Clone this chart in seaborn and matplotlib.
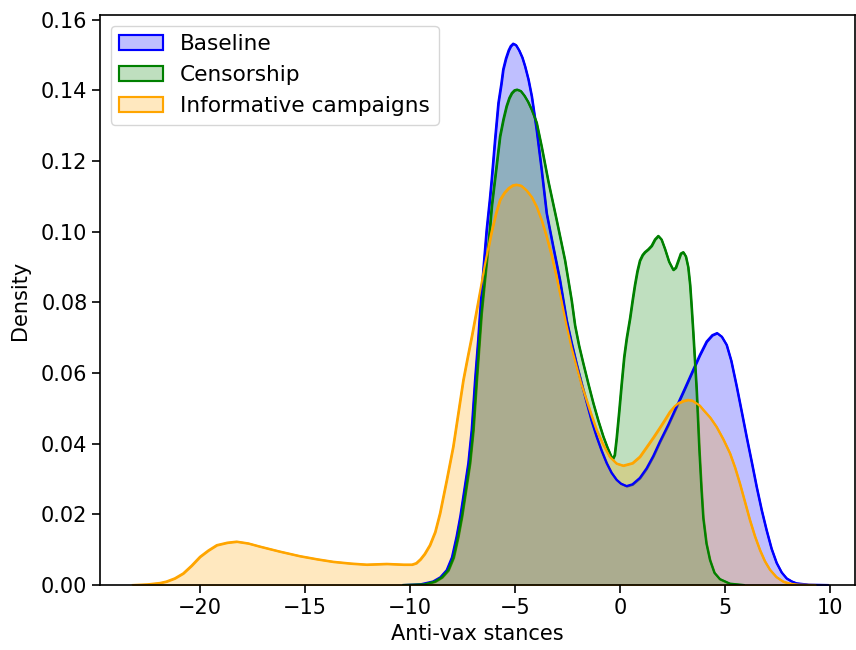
import numpy as np
import pandas as pd
import matplotlib
matplotlib.use("Agg")
import matplotlib.pyplot as plt
from matplotlib.patches import Patch
from matplotlib.colors import to_rgba
import seaborn as sns

# ---- data (density curves) ----
groups = ["Baseline", "Censorship", "Informative campaigns"]
colors = ["blue", "green", "orange"]

baseline_x = [-10.3, -9.5, -8.9, -8.55, -8.25, -8.0, -7.78, -7.6, -7.46, -7.22,
              -7.06, -6.9, -6.75, -6.67, -6.51, -6.35, -6.2, -6.11, -5.95, -5.79,
              -5.65, -5.56, -5.43, -5.3, -5.2, -5.08, -4.95, -4.8, -4.65, -4.52,
              -4.36, -4.2, -3.97, -3.73, -3.49, -3.18, -2.86, -2.54, -2.3, -2.06,
              -1.8, -1.59, -1.35, -1.11, -0.87, -0.63, -0.4, -0.16, 0.05, 0.32,
              0.6, 0.95, 1.27, 1.59, 1.9, 2.3, 2.7, 3.1, 3.49, 3.8,
              4.13, 4.4, 4.63, 4.85, 5.08, 5.3, 5.56, 5.8, 6.03, 6.27,
              6.51, 6.75, 6.98, 7.22, 7.46, 7.7, 7.94, 8.2, 8.41, 9.0, 9.9]
baseline_d = [0.0, 0.0002, 0.001, 0.0022, 0.0042, 0.0078, 0.0137, 0.0195, 0.025, 0.0345,
              0.0439, 0.058, 0.0695, 0.0765, 0.089, 0.1005, 0.109, 0.1147, 0.126, 0.1364,
              0.1418, 0.1459, 0.149, 0.1513, 0.1525, 0.1532, 0.1528, 0.1513, 0.1493, 0.1468,
              0.1431, 0.1383, 0.1289, 0.1175, 0.1052, 0.0958, 0.0864, 0.075, 0.0685, 0.0625,
              0.0565, 0.0518, 0.0465, 0.042, 0.038, 0.0345, 0.0318, 0.0298, 0.0287, 0.028,
              0.0285, 0.0303, 0.033, 0.0365, 0.0405, 0.0453, 0.0505, 0.0557, 0.0609, 0.065,
              0.0689, 0.0707, 0.0713, 0.0703, 0.0680, 0.0635, 0.0562, 0.049, 0.042, 0.035,
              0.0278, 0.0212, 0.0156, 0.0103, 0.0063, 0.0036, 0.0019, 0.001, 0.0005, 0.0001, 0.0]

censor_x = [-10.3, -9.3, -8.8, -8.47, -8.17, -7.92, -7.7, -7.52, -7.38, -7.14,
            -6.98, -6.82, -6.59, -6.43, -6.27, -6.1, -5.9, -5.71, -5.55, -5.4,
            -5.27, -5.15, -5.02, -4.89, -4.72, -4.55, -4.38, -4.2, -3.97, -3.73,
            -3.41, -3.02, -2.62, -2.3, -2.14, -1.95, -1.75, -1.5, -1.27, -1.03,
            -0.79, -0.6, -0.4, -0.33, -0.25, -0.16, -0.04, 0.08, 0.2, 0.32,
            0.48, 0.6, 0.71, 0.83, 0.95, 1.08, 1.19, 1.35, 1.51, 1.67,
            1.83, 1.98, 2.14, 2.34, 2.54, 2.66, 2.78, 2.9, 3.02, 3.14,
            3.25, 3.34, 3.41, 3.49, 3.57, 3.65, 3.72, 3.78, 3.88, 3.97,
            4.12, 4.29, 4.5, 4.76, 5.24, 5.9]
censor_d = [0.0, 0.0002, 0.001, 0.0022, 0.0042, 0.0078, 0.0137, 0.0195, 0.025, 0.0345,
            0.0439, 0.058, 0.0769, 0.0865, 0.0958, 0.1075, 0.1175, 0.127, 0.1318, 0.1355,
            0.1378, 0.1392, 0.14, 0.1402, 0.1398, 0.1385, 0.1368, 0.1345, 0.1309, 0.1241,
            0.1142, 0.1034, 0.092, 0.0805, 0.0735, 0.0678, 0.0628, 0.0568, 0.0515, 0.0465,
            0.042, 0.039, 0.0362, 0.0358, 0.0368, 0.0415, 0.049, 0.057, 0.0645, 0.0698,
            0.0755, 0.0805, 0.0848, 0.0888, 0.0918, 0.0934, 0.0942, 0.095, 0.096, 0.0978,
            0.0988, 0.0978, 0.0952, 0.0915, 0.0892, 0.0898, 0.0918, 0.0938, 0.0942, 0.093,
            0.09, 0.085, 0.079, 0.0715, 0.0635, 0.0555, 0.0465, 0.0385, 0.0275, 0.019,
            0.0118, 0.0071, 0.0035, 0.0017, 0.0004, 0.0]

inform_x = [-23.2, -22.5, -21.9, -21.6, -21.2, -20.8, -20.4, -20.0, -19.6, -19.2,
            -18.7, -18.25, -17.7, -17.14, -16.2, -15.24, -14.4, -13.65, -12.8, -12.06,
            -11.1, -10.3, -9.9, -9.7, -9.5, -9.3, -9.05, -8.8, -8.57, -8.25,
            -7.94, -7.7, -7.46, -7.25, -7.05, -6.8, -6.43, -6.11, -5.9, -5.71,
            -5.5, -5.3, -5.1, -4.92, -4.7, -4.45, -4.2, -3.97, -3.73, -3.49,
            -3.25, -3.02, -2.78, -2.54, -2.3, -2.06, -1.83, -1.59, -1.35, -1.11,
            -0.8, -0.48, -0.16, 0.16, 0.6, 0.95, 1.27, 1.6, 1.9, 2.15,
            2.38, 2.6, 2.8, 3.03, 3.25, 3.45, 3.6, 3.8, 3.97, 4.3,
            4.6, 4.92, 5.24, 5.48, 5.71, 5.95, 6.19, 6.43, 6.67, 6.9,
            7.14, 7.45, 7.78, 8.1, 8.5, 9.3]
inform_d = [0.0, 0.0002, 0.0006, 0.001, 0.0019, 0.0033, 0.0055, 0.008, 0.0098, 0.0113,
            0.012, 0.0123, 0.0118, 0.0109, 0.0095, 0.0082, 0.0073, 0.0066, 0.0061, 0.0058,
            0.006, 0.0058, 0.0058, 0.0062, 0.0073, 0.0088, 0.0113, 0.015, 0.0203, 0.0297,
            0.0392, 0.0486, 0.058, 0.0645, 0.0705, 0.0785, 0.0905, 0.1, 0.1052, 0.109,
            0.111, 0.1123, 0.1131, 0.1133, 0.113, 0.1117, 0.1098, 0.1071, 0.1033, 0.0986,
            0.0932, 0.0873, 0.0805, 0.0735, 0.0672, 0.0618, 0.0568, 0.0524, 0.048, 0.0439,
            0.0398, 0.0363, 0.0344, 0.0338, 0.0345, 0.0363, 0.039, 0.0418, 0.0445, 0.0468,
            0.049, 0.0505, 0.0515, 0.0521, 0.0524, 0.0522, 0.0516, 0.0508, 0.0496, 0.0474,
            0.0448, 0.0413, 0.0373, 0.0333, 0.0288, 0.0236, 0.0184, 0.0138, 0.0099, 0.0068,
            0.0044, 0.0023, 0.001, 0.0004, 0.0001, 0.0]

xs = [baseline_x, censor_x, inform_x]
ds = [baseline_d, censor_d, inform_d]

df = pd.concat([pd.DataFrame({"x": x, "density": d, "group": g})
                for x, d, g in zip(xs, ds, groups)], ignore_index=True)

plt.rcParams["font.family"] = ["DejaVu Sans"]
plt.rcParams["font.size"] = 15

fig = plt.figure(figsize=(8.56, 6.5), dpi=100)
ax = fig.add_axes([0.1168, 0.1, 0.882, 0.877])

lw = 1.55
for g, c in zip(groups, colors):
    sub = df[df["group"] == g]
    ax.fill_between(sub["x"], 0, sub["density"], facecolor=to_rgba(c, 0.25),
                    edgecolor=c, linewidth=lw, joinstyle="round")
    sns.lineplot(data=sub, x="x", y="density", color=c, linewidth=lw,
                 sort=False, estimator=None, legend=False, ax=ax,
                 solid_joinstyle="round")

ax.set_xlim(-24.76, 11.2)
ax.set_ylim(0, 0.1613)
ax.set_xticks([-20, -15, -10, -5, 0, 5, 10])
ax.set_yticks(np.arange(0, 0.161, 0.02))
ax.set_yticklabels([f"{v:.2f}" for v in np.arange(0, 0.161, 0.02)])
ax.set_xlabel("Anti-vax stances", fontsize=15, labelpad=5)
ax.set_ylabel("Density", fontsize=15, labelpad=8)
ax.tick_params(labelsize=15, length=5.5, width=1.2)
for s in ax.spines.values():
    s.set_linewidth(1.2)

handles = [Patch(facecolor=to_rgba(c, 0.25), edgecolor=c, linewidth=lw, label=g)
           for g, c in zip(groups, colors)]
ax.legend(handles=handles, loc="upper left", fontsize=15.6)

fig.savefig("out.png", dpi=100)
